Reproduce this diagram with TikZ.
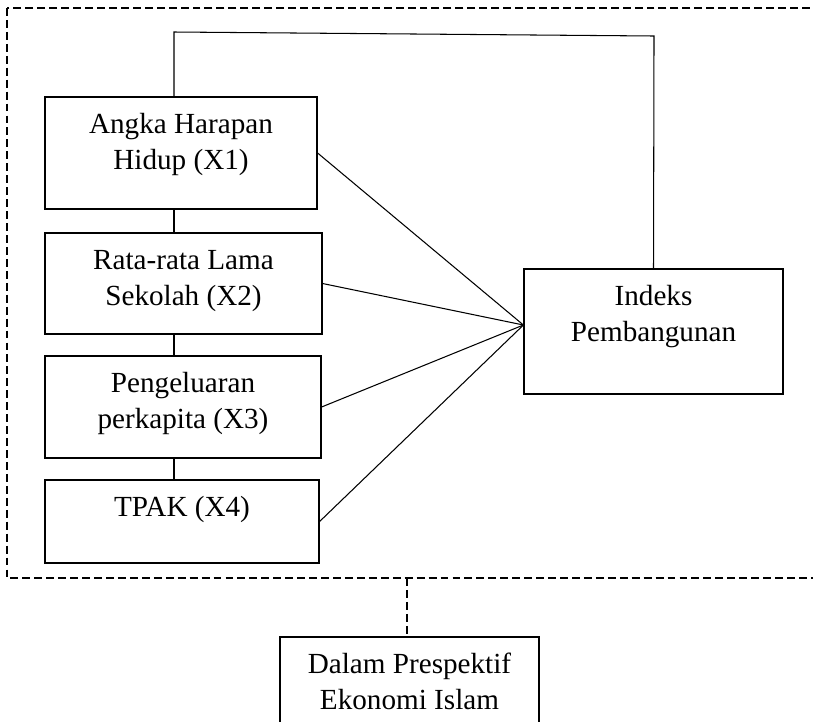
\documentclass[tikz,border=0pt]{standalone}
\usepackage{fontspec}
\setmainfont{Liberation Serif}

\begin{document}
\begin{tikzpicture}[x=0.02cm, y=-0.02cm,
		varbox/.style={draw, rectangle, line width=0.7pt, inner sep=0pt},
		varlbl/.style={anchor=base, align=center, inner sep=0pt, font=\fontsize{16.6pt}{20.5pt}\selectfont},
		link/.style={line width=0.6pt},
		frameline/.style={line width=0.8pt, dash pattern=on 4.5pt off 2.3pt}]
	\useasboundingbox (0,0) rectangle (813,721);
		\begin{scope}
			\node [varbox, minimum width=5.44cm, minimum height=2.24cm] (x1) at (181,153) {};
			\node [varbox, minimum width=5.54cm, minimum height=2.02cm] (x2) at (183.5,283.5) {};
			\node [varbox, minimum width=5.52cm, minimum height=2.04cm] (x3) at (183,407) {};
			\node [varbox, minimum width=5.48cm, minimum height=1.66cm] (x4) at (182,521.5) {};
			\node [varlbl] (t1) at ([yshift=-1.46cm]x1.north) {Angka Harapan\\Hidup (X1)};
			\node [varlbl] (t2) at ([yshift=-1.46cm]x2.north) {Rata-rata Lama\\Sekolah (X2)};
			\node [varlbl] (t3) at ([yshift=-1.46cm]x3.north) {Pengeluaran\\perkapita (X3)};
			\node [varlbl] (t4) at ([yshift=-0.74cm]x4.north) {TPAK (X4)};
		\end{scope}
	\node [varbox, minimum width=5.18cm, minimum height=2.5cm] (ipm) at (653.5,331.5) {};
	\node [varlbl] (tipm) at ([yshift=-1.46cm]ipm.north) {Indeks\\Pembangunan};
	\node [varbox, minimum width=5.18cm, minimum height=2.16cm] (islam) at (409.5,691) {};
	\node [varlbl] (tislam) at ([yshift=-1.46cm]islam.north) {Dalam Prespektif\\Ekonomi Islam};
	\coordinate (spine) at (174,32);
	\coordinate (corner) at (654,36);
	\coordinate (hub) at ([yshift=0.13cm]ipm.west);
	\coordinate (framebot) at (407,578);
	\draw [link] (x1.south -| spine) -- (x2.north -| spine);
	\draw [link] (x2.south -| spine) -- (x3.north -| spine);
	\draw [link] (x3.south -| spine) -- (x4.north -| spine);
	\draw [link] (x1.north -| spine) -- (spine) -- (corner) -- (ipm.north);
	\draw [link] (x1.east) -- (hub);
	\draw [link] (x2.east) -- (hub);
	\draw [link] (x3.east) -- (hub);
	\draw [link] (x4.east) -- (hub);
	\draw [frameline] (7,8) rectangle (830,578);
	\draw [frameline] (framebot) -- (framebot |- islam.north);
\end{tikzpicture}
\end{document}
